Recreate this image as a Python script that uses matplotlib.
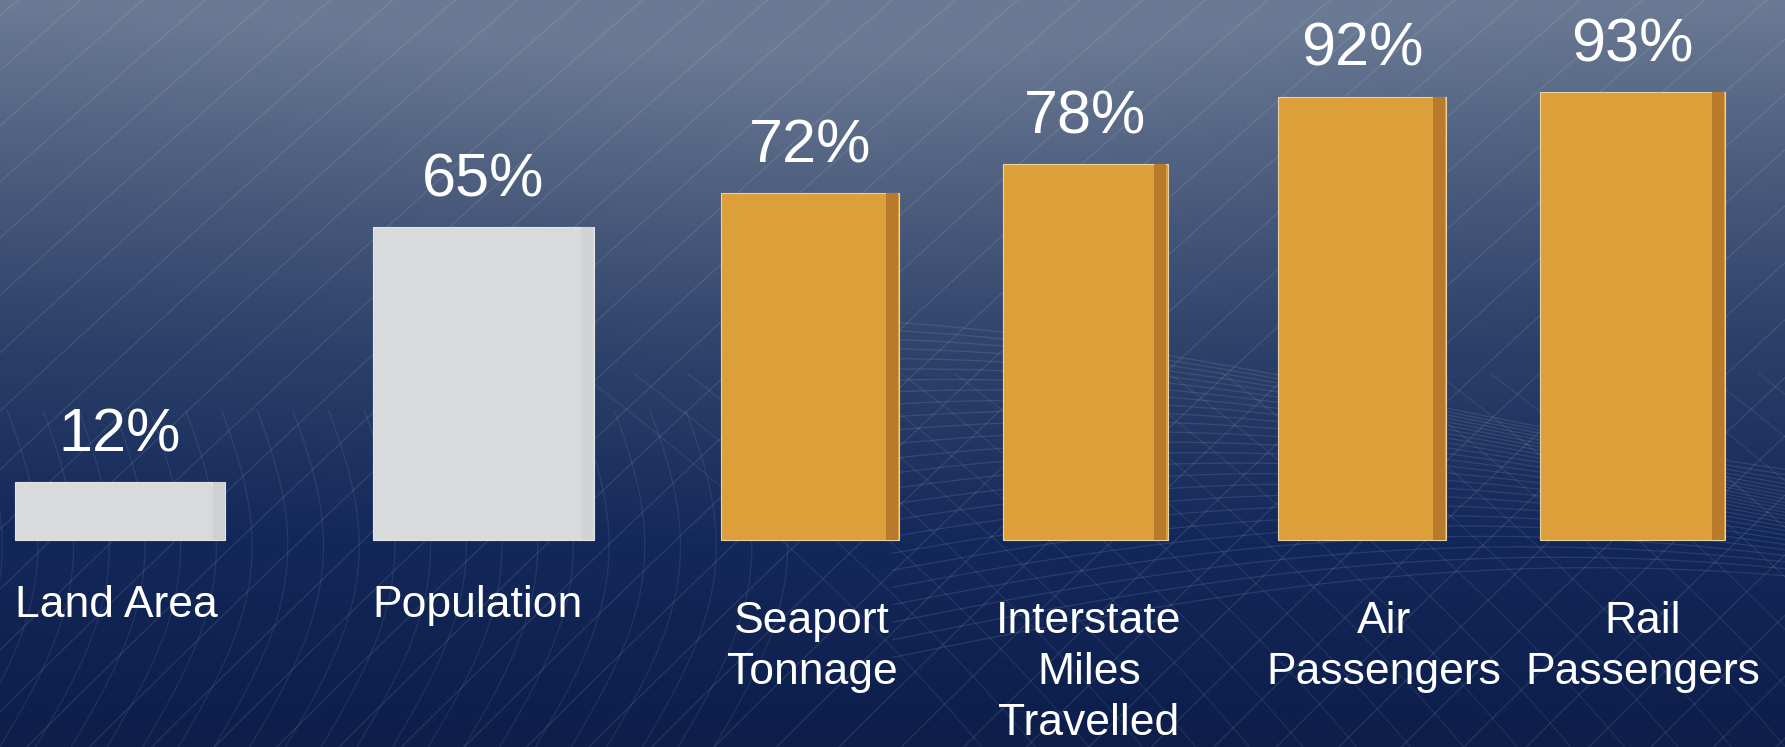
import matplotlib.pyplot as plt
import numpy as np
from matplotlib.colors import LinearSegmentedColormap

plt.rcParams['font.family'] = ['Liberation Sans', 'DejaVu Sans']

# data
categories = ["Land Area", "Population", "Seaport\nTonnage",
              "Interstate\nMiles\nTravelled", "Air\nPassengers", "Rail\nPassengers"]
shares = [12, 65, 72, 78, 92, 93]

# layout / style (not data)
bar_x = [1.20, 4.83, 8.10, 10.85, 13.62, 16.32]
bar_w = [2.11, 2.21, 1.78, 1.65, 1.68, 1.85]
label_x = [1.16, 4.78, 8.12, 10.89, 13.84, 16.43]
bar_colors = ["#d9dadb", "#d9dadb", "#dd9f39", "#dd9f39", "#dd9f39", "#dd9f39"]
side_colors = ["#cfd0d1", "#d2d3d4", "#b97a2c", "#b97a2c", "#b97a2c", "#b97a2c"]
edge_colors = ["#e4e5e6", "#e4e5e6", "#e8d2a8", "#e8d2a8", "#e8d2a8", "#e8d2a8"]


fig = plt.figure(figsize=(17.85, 7.47), dpi=100)
ax = fig.add_axes([0, 0, 1, 1])
ax.set_xlim(0, 17.85)
ax.set_ylim(-42.95, 112.03)
ax.axis("off")

# background gradient
bg = LinearSegmentedColormap.from_list(
    "bg", [(0.0, "#0d1e4b"), (0.25, "#13285a"), (0.5, "#2a3f68"),
           (0.75, "#4a5b7c"), (1.0, "#6a7a94")])
yy = np.linspace(0, 1, 300)[:, None]
xx = np.linspace(0, 1, 400)[None, :]
grad = yy ** 1.1 + 0.08 * np.exp(-((xx - 0.45) / 0.3) ** 2) * yy
ax.imshow(np.clip(grad, 0, 1), cmap=bg, origin="lower", aspect="auto",
          extent=[0, 17.85, -42.95, 112.03], zorder=0)

# decorative mesh lines (axes coords)
t = np.linspace(0, 1, 200)
tr = ax.transAxes
for c in np.arange(-1.0, 1.2, 0.035):
    ax.plot(c + 0.42 * t + 0.03 * t ** 2, t, color="white", alpha=0.1, lw=0.9,
            transform=tr, zorder=1)
for c in np.arange(-0.2, 0.4, 0.02):
    ax.plot(c + 0.03 * np.sin(3 * t) + 0.02 * t, t * 0.45, color="white",
            alpha=0.08, lw=0.9, transform=tr, zorder=1)
for k in np.arange(0, 1, 0.04):
    xs = np.linspace(0.5, 1, 200)
    ax.plot(xs, 0.12 + 0.35 * k + 0.12 * np.sin(4 * (xs - 0.5) + 2 * k),
            color="white", alpha=0.1, lw=0.9, transform=tr, zorder=1)
for c in np.arange(0.55, 1.4, 0.03):
    ys = np.linspace(0, 0.5, 200)
    ax.plot(c - 0.35 * ys - 0.2 * ys ** 2, ys, color="white", alpha=0.08,
            lw=0.9, transform=tr, zorder=1)

# bars with a darker side strip
ax.bar(bar_x, shares, width=bar_w, color=bar_colors, edgecolor=edge_colors,
       linewidth=0.8, zorder=3)
side_x = [x + w / 2 - 0.07 for x, w in zip(bar_x, bar_w)]
ax.bar(side_x, shares, width=0.12, color=side_colors, zorder=4)

for x, v in zip(bar_x, shares):
    ax.annotate(f"{v}%", (x, v), xytext=(0, 22), textcoords="offset points",
                ha="center", va="baseline", fontsize=44, color="white", zorder=5)

for x, lab in zip(label_x, categories):
    y = -9.3 if "\n" not in lab else -12.6
    ax.text(x, y, lab, ha="center", va="top", fontsize=32, color="white",
            linespacing=1.31, multialignment="center", zorder=5)

fig.savefig("out.png", dpi=100)
